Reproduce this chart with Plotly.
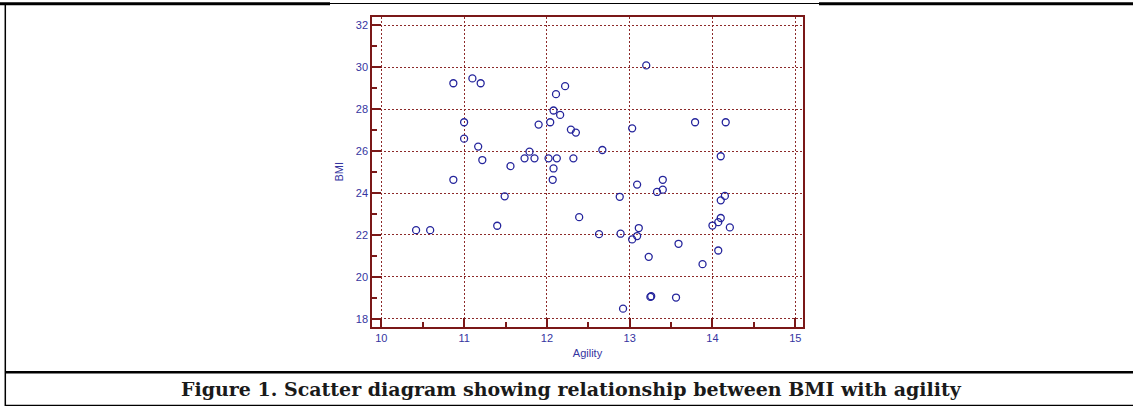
import plotly.graph_objects as go

# Agility score vs BMI
agility = [10.42, 10.59, 10.87, 10.87, 11.00, 11.00, 11.10, 11.17, 11.20, 11.22,
           11.40, 11.49, 11.56, 11.73, 11.79, 11.85, 11.90, 12.02, 12.04, 12.07,
           12.08, 12.08, 12.11, 12.12, 12.16, 12.22, 12.29, 12.32, 12.35, 12.39,
           12.63, 12.67, 12.88, 12.89, 12.92, 13.03, 13.03, 13.09, 13.09, 13.11,
           13.20, 13.23, 13.25, 13.26, 13.33, 13.40, 13.40, 13.56, 13.59, 13.79,
           13.88, 14.00, 14.07, 14.07, 14.10, 14.10, 14.10, 14.15, 14.16, 14.21]
bmi = [22.23, 22.23, 29.23, 24.63, 27.37, 26.59, 29.46, 26.21, 29.23, 25.57,
       22.44, 23.84, 25.28, 25.65, 25.97, 25.65, 27.26, 25.65, 27.37, 24.63,
       27.93, 25.17, 28.71, 25.65, 27.72, 29.09, 27.02, 25.65, 26.88, 22.85,
       22.04, 26.05, 23.82, 22.06, 18.49, 27.08, 21.79, 24.40, 21.95, 22.33,
       30.08, 20.96, 19.05, 19.08, 24.05, 24.16, 24.63, 19.02, 21.58, 27.37,
       20.61, 22.45, 22.61, 21.26, 22.81, 25.75, 23.65, 23.86, 27.37, 22.36]

x_ticks = [10, 11, 12, 13, 14, 15]
y_ticks = [18, 20, 22, 24, 26, 28, 30, 32]
caption = "Figure 1. Scatter diagram showing relationship between BMI with agility"

W, H = 1133, 406
FRAME = "#7a1818"
GRID = "#8c2a2a"
BLUE = "#35359f"


def px_x(v):
    return v / W


def px_y(v):
    return (H - v) / H


fig = go.Figure(go.Scatter(
    x=agility, y=bmi,
    mode="markers",
    marker=dict(symbol="circle-open", size=7, color="#25259c", line=dict(width=1.3)),
    hoverinfo="x+y",
))

axis_common = dict(
    showline=True, mirror=True, linecolor=FRAME, linewidth=2,
    ticks="inside", ticklen=9, tickwidth=2, tickcolor=FRAME,
    showgrid=True, gridcolor=GRID, gridwidth=1, griddash="2px,2px",
    zeroline=False,
    tickfont=dict(family="Liberation Sans, Arial, sans-serif", size=11, color=BLUE),
    title_font=dict(family="Liberation Sans, Arial, sans-serif", size=11, color=BLUE),
)

fig.update_xaxes(
    **axis_common,
    domain=[px_x(372.3), px_x(802.7)],
    range=[9.891, 15.09],
    tickvals=x_ticks,
    minor=dict(dtick=0.5, tick0=10, ticks="inside", ticklen=5, tickwidth=1.5,
               tickcolor=FRAME, showgrid=False),
    title_text="Agility", title_standoff=6,
)
fig.update_yaxes(
    **axis_common,
    domain=[px_y(326.7), px_y(16.7)],
    range=[17.63, 32.40],
    tickvals=y_ticks,
    minor=dict(dtick=1, tick0=18, ticks="inside", ticklen=5, tickwidth=1.5,
               tickcolor=FRAME, showgrid=False),
    title_text="BMI", title_standoff=10,
)

# document table rules around the figure
line_specs = [
    (0, 3.8, 330, 3.8, 3),
    (330, 3.5, 819, 3.5, 1),
    (819, 3.8, W, 3.8, 3),
    (5.3, 3.5, 5.3, H, 1.5),
    (5.3, 372.3, W, 372.3, 2.5),
    (5.3, 405.3, W, 405.3, 1.2),
]
shapes = [
    dict(type="line", xref="paper", yref="paper",
         x0=px_x(a), y0=px_y(b), x1=px_x(c), y1=px_y(d),
         line=dict(color="#000000", width=w))
    for a, b, c, d, w in line_specs
]

fig.update_layout(
    width=W, height=H,
    margin=dict(l=0, r=0, t=0, b=0),
    paper_bgcolor="white", plot_bgcolor="white",
    showlegend=False,
    shapes=shapes,
    annotations=[dict(
        text=f"<b>{caption}</b>",
        xref="paper", yref="paper", x=px_x(571), y=px_y(388.5),
        xanchor="center", yanchor="middle", showarrow=False,
        font=dict(family="DejaVu Serif, serif", size=19, color="#1a1a1a"),
    )],
)

# drop the default page margin so the figure sits at the window's corner
fig.write_html("out.html", config={"displayModeBar": False},
               post_script="document.body.style.margin='0';")
